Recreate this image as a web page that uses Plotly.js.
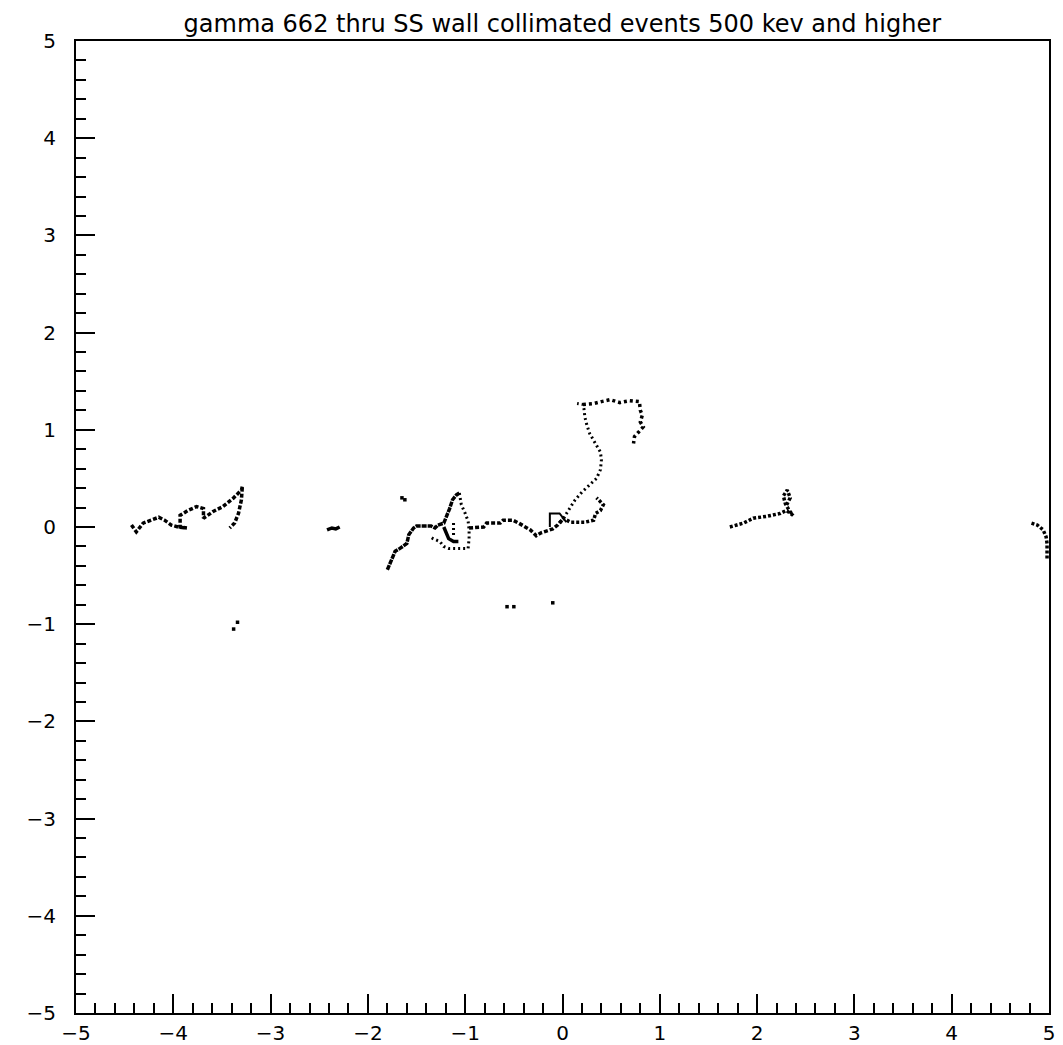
<!DOCTYPE html>
<html>
<head>
<meta charset="utf-8">
<script src="https://cdn.plot.ly/plotly-3.0.1.min.js"></script>
<style>html,body{margin:0;padding:0;background:#fff;}#chart{width:1063px;height:1045px;}</style>
</head>
<body>
<div id="chart"></div>
<script>
// ---- data ----
const titleText = "gamma 662 thru SS wall collimated events 500 kev and higher";
const tickVals = [-5,-4,-3,-2,-1,0,1,2,3,4,5];

// left track near x = -4 .. -3.3
const leftX = [-4.43,-4.40,-4.38,-4.31,-4.24,-4.15,-4.09,-4.02,-3.95,-3.86,-3.93,-3.93,-3.85,-3.76,-3.69,-3.69,-3.59,-3.49,-3.38,-3.30,-3.29,-3.30,-3.33,-3.37,-3.42];
const leftY = [0.02,-0.03,-0.05,0.04,0.07,0.10,0.07,0.02,0.00,-0.01,0.00,0.12,0.17,0.21,0.19,0.09,0.16,0.21,0.30,0.38,0.42,0.28,0.14,0.04,-0.01];

// small blob near x = -2.35
const blobAX = [-2.42,-2.37,-2.33,-2.29];
const blobAY = [-0.03,-0.01,-0.02,0.00];

// central track, climbing part
const c1X = [-1.80,-1.76,-1.72,-1.67,-1.60,-1.58,-1.53,-1.50,-1.42,-1.35,-1.31,-1.28,-1.22,-1.19,-1.16,-1.13,-1.09,-1.06];
const c1Y = [-0.44,-0.35,-0.25,-0.22,-0.17,-0.08,-0.01,0.01,0.01,0.01,-0.01,0.02,0.04,0.11,0.19,0.28,0.33,0.35];
// central track, dotted loop back down and around
const c2X = [-1.06,-1.04,-1.00,-0.97,-0.96,-0.96,-0.97,-1.10,-1.17,-1.22,-1.26,-1.33,-1.36];
const c2Y = [0.35,0.23,0.14,0.06,-0.03,-0.12,-0.22,-0.22,-0.22,-0.20,-0.15,-0.12,-0.10];
// inner scribble
const c3X = [-1.22,-1.19,-1.17,-1.12,-1.07];
const c3Y = [0.00,-0.07,-0.12,-0.15,-0.15];
const c4X = [-1.12,-1.12,-1.12];
const c4Y = [0.04,-0.03,-0.10];
// continuation to the right
const c5X = [-0.96,-0.81,-0.78,-0.64,-0.61,-0.51,-0.45,-0.39,-0.33,-0.29,-0.27,-0.22,-0.15,-0.10,-0.05,0.01];
const c5Y = [-0.01,0.00,0.04,0.04,0.07,0.07,0.04,0.00,-0.03,-0.07,-0.09,-0.06,-0.04,-0.02,0.02,0.09];
// small square near x = -0.1
const sqX = [-0.13,-0.13,-0.03,0.04];
const sqY = [0.00,0.14,0.14,0.05];
// lower right branch
const c6X = [-0.03,0.01,0.08,0.15,0.23,0.32,0.34,0.39,0.42,0.39,0.35];
const c6Y = [0.04,0.09,0.05,0.05,0.05,0.07,0.14,0.17,0.23,0.26,0.30];
// long branch climbing to y = 1.3
const c7X = [0.01,0.06,0.13,0.20,0.28,0.35,0.39,0.40,0.39,0.35,0.32,0.28,0.25,0.23,0.22,0.21,0.15];
const c7Y = [0.09,0.17,0.28,0.36,0.43,0.50,0.59,0.69,0.77,0.84,0.89,0.96,1.05,1.13,1.22,1.26,1.27];
const c8X = [0.21,0.32,0.40,0.49,0.59,0.69,0.79,0.80,0.82,0.80,0.83,0.78,0.74,0.73];
const c8Y = [1.26,1.27,1.29,1.31,1.28,1.30,1.29,1.20,1.15,1.08,1.03,0.98,0.93,0.86];

// track near x = 2
const rX = [1.72,1.79,1.86,1.96,2.10,2.24,2.30,2.37,2.33,2.29,2.27,2.31,2.34,2.30];
const rY = [0.00,0.02,0.04,0.09,0.11,0.14,0.17,0.12,0.17,0.24,0.32,0.38,0.30,0.22];

// track at the right edge
const eX = [4.82,4.88,4.94,4.97,4.98,4.98];
const eY = [0.04,0.02,-0.03,-0.10,-0.17,-0.34];

// isolated marks
const dotsX = [-3.34,-3.38,-0.57,-0.50,-0.10,-1.65,-1.62];
const dotsY = [-0.98,-1.05,-0.82,-0.82,-0.78,0.30,0.28];

// ---- traces ----
function track(x, y, dash, w) {
  return {x: x, y: y, type: 'scatter', mode: 'lines', hoverinfo: 'skip',
          line: {color: '#000', width: w || 3, dash: dash || '3px,2px'}};
}
const data = [
  track(leftX, leftY, '4px,2px', 3.5),
  track(blobAX, blobAY, 'solid', 3.5),
  track(c1X, c1Y, '5px,1px', 3.5),
  track(c2X, c2Y, '2px,3px', 3),
  track(c3X, c3Y, 'solid', 3.5),
  track(c4X, c4Y, '2px,3px', 3),
  track(c5X, c5Y, '4px,2px', 3.5),
  track(sqX, sqY, 'solid', 2),
  track(c6X, c6Y, '3px,2px', 3.5),
  track(c7X, c7Y, '2px,3px', 3),
  track(c8X, c8Y, '3px,3px', 3.5),
  track(rX, rY, '3px,2px', 3.5),
  track(eX, eY, '3px,2px', 3.5),
  {x: dotsX, y: dotsY, type: 'scatter', mode: 'markers', hoverinfo: 'skip',
   marker: {color: '#000', size: 3.5, symbol: 'square'}}
];

const axisCommon = {
  range: [-5, 5], tickvals: tickVals, ticks: 'inside', ticklen: 19, tickwidth: 2,
  tickcolor: '#000', showline: true, linewidth: 2, linecolor: '#000', mirror: true,
  showgrid: false, zeroline: false, fixedrange: true,
  tickfont: {family: 'DejaVu Sans, sans-serif', size: 20, color: '#000'},
  minor: {ticks: 'inside', ticklen: 10, tickwidth: 2, tickcolor: '#000', dtick: 0.2, tick0: 0, showgrid: false}
};

const layout = {
  width: 1063, height: 1045,
  margin: {l: 76, r: 14, t: 41, b: 32, pad: 0},
  paper_bgcolor: '#fff', plot_bgcolor: '#fff',
  showlegend: false,
  title: {text: titleText, x: 0.529, xanchor: 'center', y: 0.977, yanchor: 'middle', yref: 'container',
          font: {family: 'DejaVu Sans, sans-serif', size: 24, color: '#000'}},
  xaxis: Object.assign({}, axisCommon, {ticklabelstandoff: 1}),
  yaxis: Object.assign({}, axisCommon, {ticklabelstandoff: 14})
};

Plotly.newPlot('chart', data, layout, {staticPlot: true, displayModeBar: false});
</script>
</body>
</html>
